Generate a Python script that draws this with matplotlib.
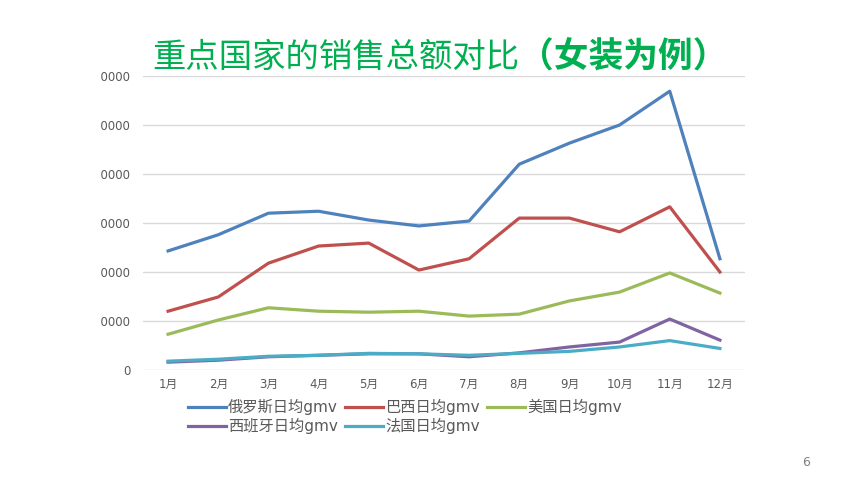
import matplotlib.pyplot as plt
from matplotlib.patches import Rectangle

plt.rcParams['font.family'] = ['DejaVu Sans', 'Noto Sans CJK SC']

months = ['1月', '2月', '3月', '4月', '5月', '6月', '7月', '8月', '9月', '10月', '11月', '12月']
russia = [24300, 27600, 32000, 32400, 30600, 29400, 30400, 42000, 46300, 50000, 56900, 22700]
brazil = [12000, 14900, 21800, 25300, 25900, 20400, 22700, 31000, 31000, 28200, 33300, 20000]
usa = [7300, 10200, 12700, 12000, 11800, 12000, 11000, 11400, 14100, 15900, 19800, 15700]
spain = [1600, 2000, 2700, 3000, 3300, 3300, 2700, 3500, 4700, 5700, 10400, 6100]
france = [1800, 2200, 2800, 3000, 3400, 3300, 3000, 3400, 3800, 4700, 6000, 4400]
yticks = [0, 10000, 20000, 30000, 40000, 50000, 60000]

fig = plt.figure(figsize=(8.6, 4.84), dpi=100)
ax = fig.add_axes([143 / 860, 1 - 370 / 484, 602 / 860, 294 / 484])

x = range(len(months))
lines = {}
lines['俄罗斯日均gmv'], = ax.plot(x, russia, color='#4F81BD', lw=2.3)
lines['巴西日均gmv'], = ax.plot(x, brazil, color='#C0504D', lw=2.3)
lines['美国日均gmv'], = ax.plot(x, usa, color='#9BBB59', lw=2.3)
lines['西班牙日均gmv'], = ax.plot(x, spain, color='#8064A2', lw=2.3)
lines['法国日均gmv'], = ax.plot(x, france, color='#4BACC6', lw=2.3)

ax.set_xlim(-0.5, len(months) - 0.5)
ax.set_ylim(0, 60000)
ax.set_yticks(yticks)
ax.set_yticklabels([str(v) for v in yticks])
ax.set_xticks(list(x))
ax.set_xticklabels(months)
ax.grid(axis='y', color='#D9D9D9', lw=1)
ax.set_axisbelow(True)
for s in ax.spines.values():
    s.set_visible(False)
ax.tick_params(length=0, labelsize=8.5, colors='#595959')
ax.tick_params(axis='y', pad=9)
ax.tick_params(axis='x', pad=6)

# legend, filled column-wise
order = ['俄罗斯日均gmv', '西班牙日均gmv', '巴西日均gmv', '法国日均gmv', '美国日均gmv']
leg = fig.legend([lines[k] for k in order], order, ncol=3, frameon=False,
                 loc='upper left', bbox_to_anchor=(188 / 860, 1 - 399 / 484),
                 fontsize=11, handlelength=2.5, handletextpad=0.1,
                 columnspacing=0.5, labelspacing=0.2, borderpad=0,
                 borderaxespad=0)
for t in leg.get_texts():
    t.set_color('#595959')

# the pasted chart image is cropped on the left
fig.add_artist(Rectangle((0, 0), 101 / 860, 1, transform=fig.transFigure,
                         facecolor='white', edgecolor='none', zorder=5))

title_font = ['Noto Sans CJK SC', 'DejaVu Sans']
t1 = fig.text(152 / 860, 1 - 57 / 484, '重点国家的销售总额对比', fontsize=24,
              color='#00B050', va='center', ha='left', zorder=6, family=title_font)
ax.annotate('（女装为例）', xy=(1, 0.5), xycoords=t1, va='center', ha='left',
            fontsize=25, fontweight='bold', color='#00B050', family=title_font,
            annotation_clip=False)

fig.text(806 / 860, 1 - 462 / 484, '6', fontsize=9, color='#808080',
         ha='center', va='center')

fig.savefig('out.png', dpi=100)
